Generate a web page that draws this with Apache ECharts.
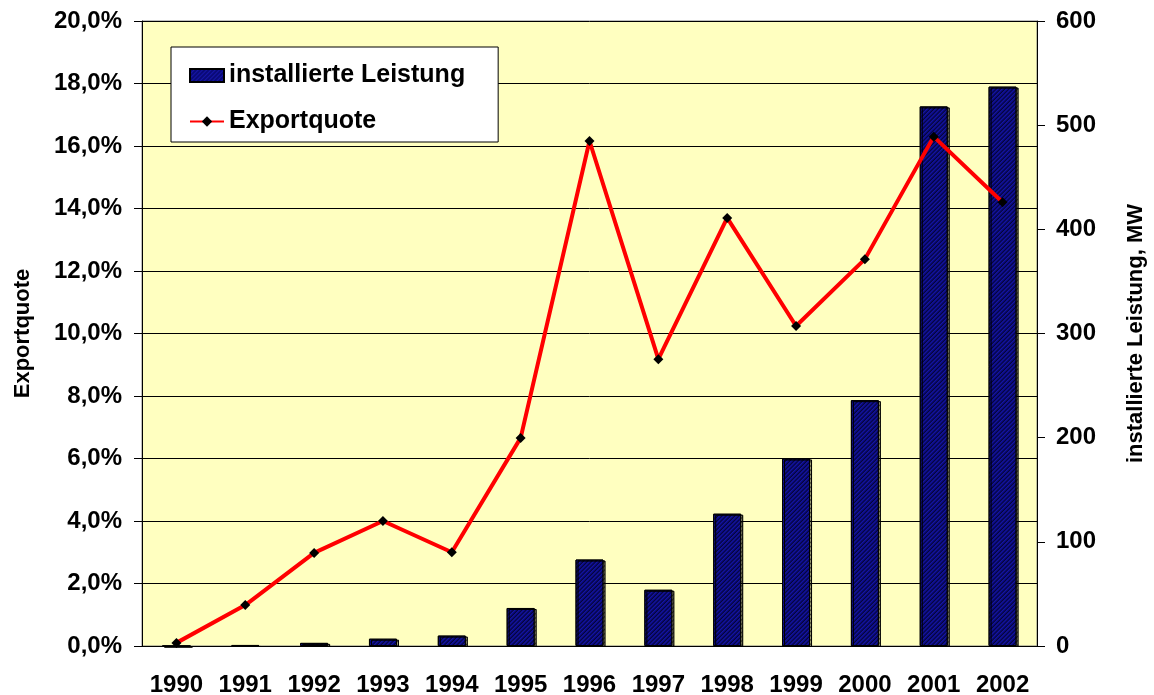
<!DOCTYPE html>
<html>
<head>
<meta charset="utf-8">
<script src="https://cdn.jsdelivr.net/npm/echarts@6/dist/echarts.min.js"></script>
<style>
  html, body { margin: 0; padding: 0; background: #fff; }
  #chart { width: 1154px; height: 695px; }
</style>
</head>
<body>
<div id="chart"></div>
<script>
// Jahre und Werte
var years = ['1990','1991','1992','1993','1994','1995','1996','1997','1998','1999','2000','2001','2002'];
var leistungMW = [0, 1, 3, 7, 10, 36.5, 83, 54, 127, 180, 236, 518, 537];
var exportquote = [0.1, 1.31, 2.98, 4.0, 3.0, 6.66, 16.16, 9.18, 13.7, 10.24, 12.38, 16.3, 14.2];

var font = 'Liberation Sans, Arial, sans-serif';
var myChart = echarts.init(document.getElementById('chart'));

var option = {
    backgroundColor: '#fff',
    textStyle: { fontFamily: font, fontWeight: 'bold', color: '#000' },
    grid: {
        left: 142, right: 117, top: 21, bottom: 49,
        outerBoundsMode: 'none',
        containLabel: false,
        show: true, backgroundColor: '#ffffc0', borderColor: '#808080', borderWidth: 1
    },
    legend: {
        orient: 'vertical',
        left: 171, top: 47,
        padding: [16, 33, 8, 18],
        itemGap: 21,
        itemWidth: 34, itemHeight: 13,
        backgroundColor: '#fff',
        borderColor: '#000', borderWidth: 1,
        textStyle: { fontFamily: font, fontWeight: 'bold', fontSize: 25, color: '#000' },
        data: [
            { name: 'installierte Leistung', icon: 'rect' },
            { name: 'Exportquote' }
        ]
    },
    xAxis: {
        type: 'category',
        data: years,
        boundaryGap: true,
        axisLine: { lineStyle: { color: '#000', width: 1 } },
        axisTick: { length: 8, interval: 0, lineStyle: { color: '#000' } },
        axisLabel: { interval: 0, hideOverlap: false, fontFamily: font, fontWeight: 'bold', fontSize: 24, color: '#000', margin: 27 }
    },
    yAxis: [
        {
            type: 'value',
            min: 0, max: 20, interval: 2,
            name: 'Exportquote',
            nameLocation: 'middle',
            nameGap: 108,
            nameTextStyle: { fontFamily: font, fontWeight: 'bold', fontSize: 22, color: '#000' },
            axisLine: { show: true, lineStyle: { color: '#000' } },
            axisTick: { show: true, length: 8, lineStyle: { color: '#000' } },
            splitLine: { lineStyle: { color: '#000', width: 1 } },
            axisLabel: {
                fontFamily: font, fontWeight: 'bold', fontSize: 24, color: '#000', margin: 20,
                formatter: function (v) { return v.toFixed(1).replace('.', ',') + '%'; }
            }
        },
        {
            type: 'value',
            min: 0, max: 600, interval: 100,
            name: 'installierte Leistung, MW',
            nameLocation: 'middle',
            nameGap: 88,
            nameTextStyle: { fontFamily: font, fontWeight: 'bold', fontSize: 22, color: '#000' },
            axisLine: { show: true, lineStyle: { color: '#000' } },
            axisTick: { show: true, length: 8, lineStyle: { color: '#000' } },
            splitLine: { show: false },
            axisLabel: { fontFamily: font, fontWeight: 'bold', fontSize: 24, color: '#000', margin: 19 }
        }
    ],
    series: [
        {
            name: 'installierte Leistung',
            type: 'bar',
            yAxisIndex: 1,
            barWidth: 28,
            data: leistungMW,
            itemStyle: {
                color: '#0a0a78',
                borderColor: '#000',
                borderWidth: 1,
                shadowColor: 'rgba(0,0,0,0.35)',
                shadowOffsetX: 2,
                shadowOffsetY: 1,
                decal: {
                    symbol: 'rect',
                    dashArrayX: [1, 0],
                    dashArrayY: [1, 2],
                    rotation: -Math.PI / 4,
                    color: 'rgba(30,30,200,0.6)'
                }
            }
        },
        {
            name: 'Exportquote',
            type: 'line',
            yAxisIndex: 0,
            data: exportquote,
            lineStyle: { color: '#ff0000', width: 4 },
            itemStyle: { color: '#000' },
            symbol: 'diamond',
            symbolSize: 10,
            z: 5
        }
    ]
};

myChart.setOption(option);
</script>
</body>
</html>
